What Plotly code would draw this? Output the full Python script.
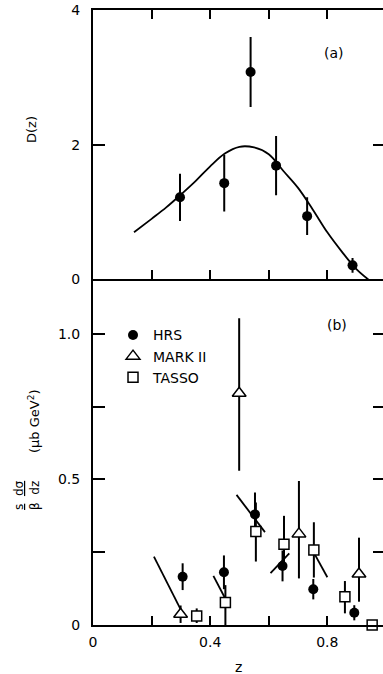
import plotly.graph_objects as go

# ---------------- data ----------------
# (a) D(z): HRS points and fitted curve
a_z = [0.297, 0.448, 0.538, 0.625, 0.731, 0.886]
a_D = [1.22, 1.43, 3.08, 1.69, 0.94, 0.21]
a_err = [0.35, 0.42, 0.52, 0.44, 0.28, 0.11]

curve_z = [0.14, 0.20, 0.25, 0.30, 0.35, 0.40, 0.45, 0.50, 0.55, 0.60,
           0.65, 0.70, 0.75, 0.80, 0.85, 0.90, 0.94]
curve_D = [0.70, 0.90, 1.07, 1.26, 1.46, 1.68, 1.87, 1.97, 1.96, 1.86,
           1.61, 1.36, 1.04, 0.70, 0.41, 0.15, 0.0]

# (b) s/beta dsigma/dz
hrs_z = [0.306, 0.447, 0.553, 0.647, 0.752, 0.892]
hrs_v = [0.166, 0.181, 0.380, 0.203, 0.123, 0.042]
hrs_e = [0.046, 0.058, 0.075, 0.053, 0.035, 0.026]

mk_z = [0.299, 0.499, 0.703, 0.908]
mk_v = [0.037, 0.796, 0.313, 0.175]
mk_up = [0.03, 0.258, 0.182, 0.125]
mk_dn = [0.03, 0.266, 0.153, 0.095]

ta_z = [0.354, 0.452, 0.556, 0.652, 0.754, 0.860, 0.953]
ta_v = [0.031, 0.077, 0.321, 0.277, 0.258, 0.097, 0.0]
ta_up = [0.026, 0.06, 0.10, 0.098, 0.095, 0.054, 0.0]
ta_dn = [0.024, 0.077, 0.103, 0.088, 0.095, 0.057, 0.0]

# slanted slope segments in (b)
seg_z0 = [0.208, 0.411, 0.490, 0.606, 0.752]
seg_v0 = [0.235, 0.169, 0.447, 0.178, 0.252]
seg_z1 = [0.303, 0.451, 0.587, 0.670, 0.800]
seg_v1 = [0.046, 0.092, 0.319, 0.246, 0.164]

x_ticks = [0.2, 0.4, 0.6, 0.8]
xb_major = [0, 0.4, 0.8]
xb_text = ["0", "0.4", "0.8"]
xb_minor = [0.2, 0.6]
ya_ticks = [0, 2, 4]
ya_text = ["0", "2", "4"]
yb_major = [0, 0.5, 1.0]
yb_text = ["0", "0.5", "1.0"]
yb_minor = [0.25, 0.75]

FONT = "DejaVu Sans"
BLK = "black"

fig = go.Figure()

# ---- panel (a) ----
fig.add_trace(go.Scatter(x=curve_z, y=curve_D, mode="lines", line=dict(color=BLK, width=1.8, shape="spline"),
                         xaxis="x2", yaxis="y2", showlegend=False, hoverinfo="skip"))
fig.add_trace(go.Scatter(x=a_z, y=a_D, mode="markers",
                         marker=dict(symbol="circle", size=10, color=BLK),
                         error_y=dict(type="data", array=a_err, width=0, thickness=2, color=BLK),
                         xaxis="x2", yaxis="y2", showlegend=False))

# ---- panel (b) ----
sx, sy = [], []
for z0, v0, z1, v1 in zip(seg_z0, seg_v0, seg_z1, seg_v1):
    sx += [z0, z1, None]
    sy += [v0, v1, None]
fig.add_trace(go.Scatter(x=sx, y=sy, mode="lines", line=dict(color=BLK, width=1.8),
                         xaxis="x", yaxis="y", showlegend=False, hoverinfo="skip"))

fig.add_trace(go.Scatter(x=hrs_z, y=hrs_v, mode="markers", name="HRS",
                         marker=dict(symbol="circle", size=10, color=BLK),
                         error_y=dict(type="data", array=hrs_e, width=0, thickness=2, color=BLK),
                         xaxis="x", yaxis="y"))
fig.add_trace(go.Scatter(x=mk_z, y=mk_v, mode="markers", name="MARK II",
                         marker=dict(symbol="triangle-up", size=12, color="white", line=dict(color=BLK, width=1.5)),
                         error_y=dict(type="data", symmetric=False, array=mk_up, arrayminus=mk_dn,
                                      width=0, thickness=2, color=BLK),
                         xaxis="x", yaxis="y"))
fig.add_trace(go.Scatter(x=ta_z, y=ta_v, mode="markers", name="TASSO",
                         marker=dict(symbol="square", size=10, color="white", line=dict(color=BLK, width=1.5)),
                         error_y=dict(type="data", symmetric=False, array=ta_up, arrayminus=ta_dn,
                                      width=0, thickness=2, color=BLK),
                         xaxis="x", yaxis="y", cliponaxis=False))

# dummy traces for right-side tick axes
fig.add_trace(go.Scatter(x=[None], y=[None], xaxis="x", yaxis="y3", showlegend=False, hoverinfo="skip"))
fig.add_trace(go.Scatter(x=[None], y=[None], xaxis="x2", yaxis="y4", showlegend=False, hoverinfo="skip"))

XR = [0, 0.99]
YB = [0, 1.187]
YA = [0, 4]
SPLIT = 0.5618

common_ax = dict(showgrid=False, zeroline=False, ticks="inside", tickcolor=BLK,
                 linecolor=BLK, tickfont=dict(family=FONT, size=14, color=BLK))

fig.update_layout(
    width=383, height=674,
    margin=dict(l=93, r=0, t=10, b=49),
    paper_bgcolor="white", plot_bgcolor="white",
    font=dict(family=FONT, size=14, color=BLK),
    xaxis=dict(**common_ax, domain=[0, 1], range=XR, anchor="y", showline=True, linewidth=2,
               tickvals=xb_major, ticktext=xb_text, ticklen=9, tickwidth=1.5, ticklabelstandoff=3,
               minor=dict(tickvals=xb_minor, ticks="inside", ticklen=9, tickwidth=1.5, tickcolor=BLK,
                          showgrid=False)),
    yaxis=dict(**common_ax, domain=[0, SPLIT], range=YB, anchor="x", showline=True, linewidth=2,
               tickvals=yb_major, ticktext=yb_text, ticklen=12, tickwidth=1.5, ticklabelstandoff=8,
               minor=dict(tickvals=yb_minor, ticks="inside", ticklen=12, tickwidth=1.5, tickcolor=BLK,
                          showgrid=False)),
    yaxis3=dict(showgrid=False, zeroline=False, overlaying="y", side="right", anchor="x", range=YB,
                ticks="inside", tickvals=yb_major + yb_minor, ticklen=10, tickwidth=1.5, tickcolor=BLK,
                showticklabels=False, showline=False),
    xaxis2=dict(**common_ax, domain=[0, 1], range=XR, anchor="y2", showline=True, linewidth=2,
                mirror="ticks", tickvals=x_ticks, showticklabels=False, ticklen=9, tickwidth=1.5),
    yaxis2=dict(**common_ax, domain=[SPLIT, 1], range=YA, anchor="x2", showline=True, linewidth=2,
                tickvals=ya_ticks, ticktext=ya_text, ticklen=12, tickwidth=1.5, ticklabelstandoff=8),
    yaxis4=dict(showgrid=False, zeroline=False, overlaying="y2", side="right", anchor="x2", range=YA,
                ticks="inside", tickvals=[2], ticklen=10, tickwidth=1.5, tickcolor=BLK,
                showticklabels=False, showline=False),
    legend=dict(x=0.069, y=0.497, xanchor="left", yanchor="top", bgcolor="rgba(0,0,0,0)",
                font=dict(family=FONT, size=14, color=BLK), itemwidth=30, tracegroupgap=0),
    showlegend=True,
)

ann = [
    dict(text="(a)", x=0.83, y=(625 - 53) / 615, xref="paper", yref="paper", showarrow=False,
         font=dict(family=FONT, size=14, color=BLK), xanchor="center", yanchor="middle"),
    dict(text="(b)", x=0.84, y=(625 - 325) / 615, xref="paper", yref="paper", showarrow=False,
         font=dict(family=FONT, size=14, color=BLK), xanchor="center", yanchor="middle"),
    dict(text="D(z)", x=(32 - 93) / 290, y=(625 - 130) / 615, xref="paper", yref="paper", showarrow=False,
         textangle=-90, font=dict(family=FONT, size=13, color=BLK), xanchor="center", yanchor="middle"),
    dict(text="z", x=0.5, y=(625 - 667) / 615, xref="paper", yref="paper", showarrow=False,
         font=dict(family=FONT, size=14, color=BLK), xanchor="center", yanchor="middle"),
    dict(text="<u>s</u>  <u>dσ</u><br>β  dz", x=(27 - 93) / 290, y=(625 - 495) / 615, xref="paper", yref="paper",
         showarrow=False, textangle=-90, font=dict(family=FONT, size=12, color=BLK),
         xanchor="center", yanchor="middle"),
    dict(text="(μb GeV<sup>2</sup>)", x=(34 - 93) / 290, y=(625 - 421) / 615, xref="paper", yref="paper",
         showarrow=False, textangle=-90, font=dict(family=FONT, size=13, color=BLK),
         xanchor="center", yanchor="middle"),
]
fig.update_layout(annotations=ann)

fig.write_html(
    "out.html",
    config={"displayModeBar": False},
    post_script="document.body.style.margin='0';document.body.style.padding='0';"
                "document.documentElement.style.overflow='hidden';document.body.style.overflow='hidden';",
)
